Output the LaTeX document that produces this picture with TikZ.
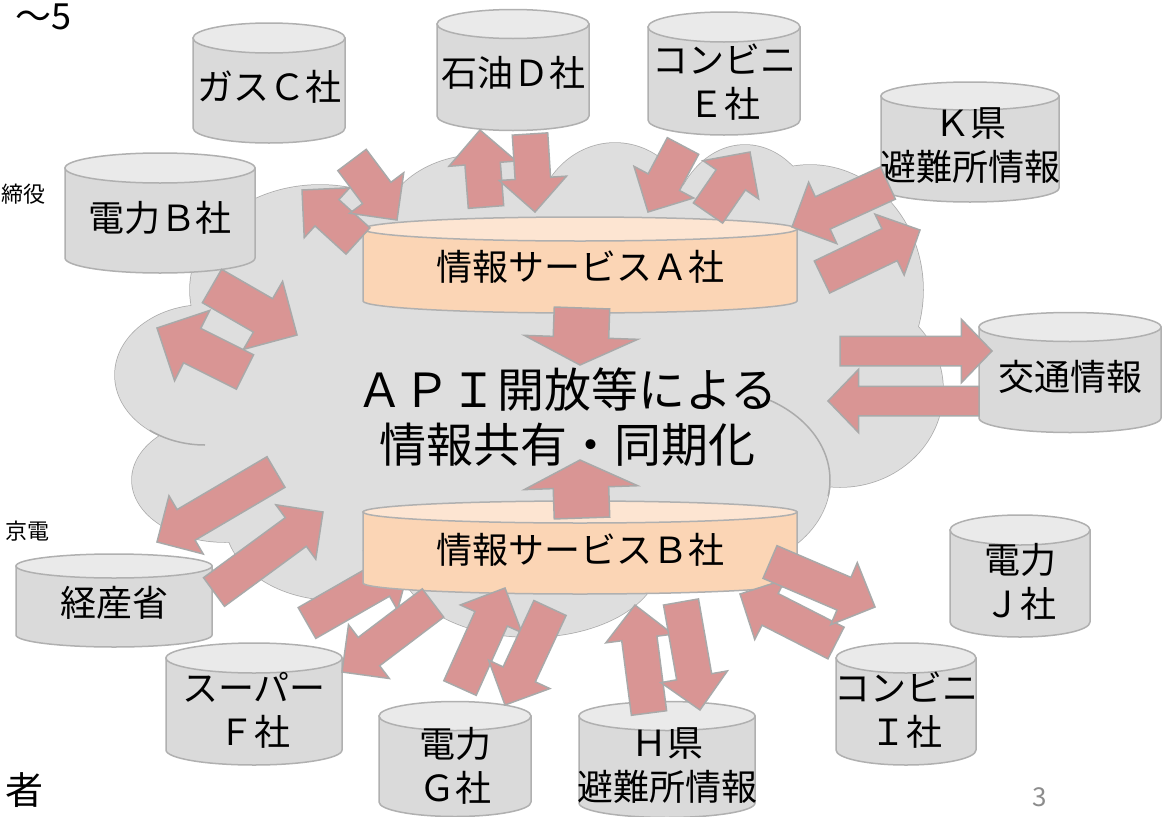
\documentclass[tikz,border=0pt]{standalone}
\usepackage{fontspec}
\setmainfont{Noto Sans CJK JP}
\usetikzlibrary{shapes.arrows,calc}
\definecolor{cloudfill}{HTML}{DEDEDE}
\definecolor{cloudline}{HTML}{ABABAB}
\definecolor{cylbody}{HTML}{DADADA}
\definecolor{cyltop}{HTML}{EAEAEA}
\definecolor{cylline}{HTML}{B0B0B0}
\definecolor{orbody}{HTML}{FBD5B5}
\definecolor{ortop}{HTML}{FDE5D2}
\definecolor{arrfill}{HTML}{D99594}
\definecolor{arrline}{HTML}{A9A9A9}
\definecolor{pagenum}{HTML}{8C8C8C}
\tikzset{
  blockarrow/.style={single arrow, draw=arrline, fill=arrfill, line width=1.5pt,
    inner xsep=0pt, inner ysep=17pt, outer sep=0pt, minimum width=1pt,
    single arrow head extend=16pt, single arrow tip angle=90},
  bigarrow/.style={inner ysep=18.5pt, single arrow head extend=20pt},
  flatarrow/.style={inner ysep=27pt, single arrow head extend=29pt, single arrow tip angle=128},
  trafficarrow/.style={inner ysep=14pt, single arrow head extend=17pt, single arrow tip angle=92},
  lbl/.style={font=\fontsize{36}{44}\selectfont, align=center, inner sep=0pt},
  biglbl/.style={font=\fontsize{47}{55}\selectfont, align=center, inner sep=0pt},
  fraglbl/.style={inner sep=0pt, anchor=east},
  cloudedge/.style={cloudline, line width=1.5pt},
}
% cylinder: cx, top cy, bottom cy, rx, ry, body colour, top colour
\newcommand\dbcyl[7]{%
  \filldraw[fill=#6,draw=cylline,line width=1.5pt] (#1-#4,#2) -- (#1-#4,#3)
    arc[start angle=180,end angle=360,x radius=#4pt,y radius=#5pt] -- (#1+#4,#2) -- cycle;
  \filldraw[fill=#7,draw=cylline,line width=1.5pt] (#1,#2) ellipse[x radius=#4pt,y radius=#5pt];}
% block arrow: [style] name, tail, tip
\newcommand\blk[4][]{%
  \path let \p1=($(#4)-(#3)$), \n1={veclen(\x1,\y1)}, \n2={atan2(\y1,\x1)} in
    node[blockarrow,#1,minimum height=\n1,rotate=\n2,anchor=tail] (#2) at (#3) {};}
\begin{document}
\begin{tikzpicture}[x=1pt,y=-1pt]
\fill[white] (0,0) rectangle (1163,817);
\useasboundingbox (0,0) rectangle (1163,817);
\clip (0,0) rectangle (1163,817);
% cloud
\def\cloudparts{320/290/130/105, 480/235/100/80, 615/230/80/87, 745/240/75/95,
  810/290/113/125, 840/390/103/97, 710/480/120/92, 530/560/130/77,
  335/520/110/80, 225/480/93/62, 205/375/90/70, 530/380/330/190}
\foreach \cx/\cy/\rx/\ry in \cloudparts
  \draw[cloudedge] (\cx,\cy) ellipse[x radius=\rx,y radius=\ry];
\foreach \cx/\cy/\rx/\ry in \cloudparts
  \fill[cloudfill] (\cx,\cy) ellipse[x radius=\rx,y radius=\ry];
% inner arcs of the cloud
\draw[cloudedge] plot[domain=90:128,samples=20] ({205+90*cos(\x)},{375+70*sin(\x)});
\draw[cloudedge] plot[domain=-60:10,samples=30] ({710+120*cos(\x)},{480+92*sin(\x)});
% arrow under B
\blk{aFB}{307,623}{410,564}
% cylinders
\dbcyl{269}{38}{128}{76}{15}{cylbody}{cyltop}
\dbcyl{513}{24}{116}{76}{14.5}{cylbody}{cyltop}
\dbcyl{724}{27}{120}{76}{15}{cylbody}{cyltop}
\dbcyl{970}{96}{188}{89}{14}{cylbody}{cyltop}
\dbcyl{160}{168}{258}{95}{15}{cylbody}{cyltop}
\dbcyl{580}{229}{301}{217}{12}{orbody}{ortop}
\dbcyl{1070}{327}{418}{91}{14.5}{cylbody}{cyltop}
\dbcyl{580}{512}{583}{217}{11}{orbody}{ortop}
\dbcyl{114}{566}{635}{98}{12}{cylbody}{cyltop}
\dbcyl{254}{658}{750}{88}{15}{cylbody}{cyltop}
\dbcyl{455}{716}{802}{76}{14.5}{cylbody}{cyltop}
\dbcyl{667}{716}{803}{88}{14.5}{cylbody}{cyltop}
\dbcyl{906}{658}{750}{70}{15}{cylbody}{cyltop}
\dbcyl{1020}{530}{622}{70}{15}{cylbody}{cyltop}
% labels
\node[lbl] (gasC) at (269,87) {ガスＣ社};
\node[lbl] (oilD) at (513,73) {石油Ｄ社};
\node[lbl] (convE) at (724,82) {コンビニ\\Ｅ社};
\node[lbl] (prefK) at (970,146) {Ｋ県\\避難所情報};
\node[lbl] (elecB) at (160,218) {電力Ｂ社};
\node[lbl] (servA) at (580,267) {情報サービスＡ社};
\node[lbl] (traffic) at (1070,377) {交通情報};
\node[biglbl] (api) at (567,417) {ＡＰＩ開放等による\\情報共有・同期化};
\node[lbl] (servB) at (580,550) {情報サービスＢ社};
\node[lbl] (meti) at (114,603) {経産省};
\node[lbl] (superF) at (254,710) {スーパー\\Ｆ社};
\node[lbl] (elecG) at (455,766) {電力\\Ｇ社};
\node[lbl] (prefH) at (667,766) {Ｈ県\\避難所情報};
\node[lbl] (convI) at (906,710) {コンビニ\\Ｉ社};
\node[lbl] (elecJ) at (1020,582) {電力\\Ｊ社};
% arrows
\blk{aAC}{358,241}{302,190}
\blk{aCA}{352,160}{397,220}
\blk{aAD}{486,207}{480,130}
\blk{aDA}{530,134}{535,212}
\blk{aEA}{683,146}{648,212}
\blk{aAE}{708,213}{750,152}
\blk{aKA}{888,183}{792,227}
\blk{aAK}{822,277}{920,230}
\blk[bigarrow]{aBin}{212,286}{297,335}
\blk[bigarrow]{aBout}{245,372}{157,328}
\blk{aMout}{276,472}{157,542}
\blk{aMin}{214,592}{323,512}
\blk{aBF}{433,603}{342,672}
\blk{aGB}{460,688}{505,588}
\blk{aBG}{550,608}{505,705}
\blk{aHB}{649,713}{635,605}
\blk{aBH}{681,602}{700,710}
\blk{aIB}{836,643}{740,594}
\blk{aBJ}{770,562}{875,607}
\blk[trafficarrow]{aTin}{840,351}{992,351}
\blk[trafficarrow]{aTout}{979,401}{828,401}
\blk[flatarrow]{aAapi}{582,308}{580,365}
\blk[flatarrow]{aBapi}{582,518}{580,460}
% fragments of the slide
\node[fraglbl,font=\fontsize{36}{36}\selectfont] (frag1) at (72,17) {〜5};
\node[fraglbl,font=\fontsize{22}{22}\selectfont] (frag2) at (46,194) {締役};
\node[fraglbl,font=\fontsize{22}{22}\selectfont] (frag3) at (50,531) {京電};
\node[fraglbl,font=\fontsize{38}{38}\selectfont] (frag4) at (44,790) {者};
\node[inner sep=0pt,font=\fontsize{26}{26}\selectfont,text=pagenum] (pg) at (1040,797) {3};
\end{tikzpicture}
\end{document}
